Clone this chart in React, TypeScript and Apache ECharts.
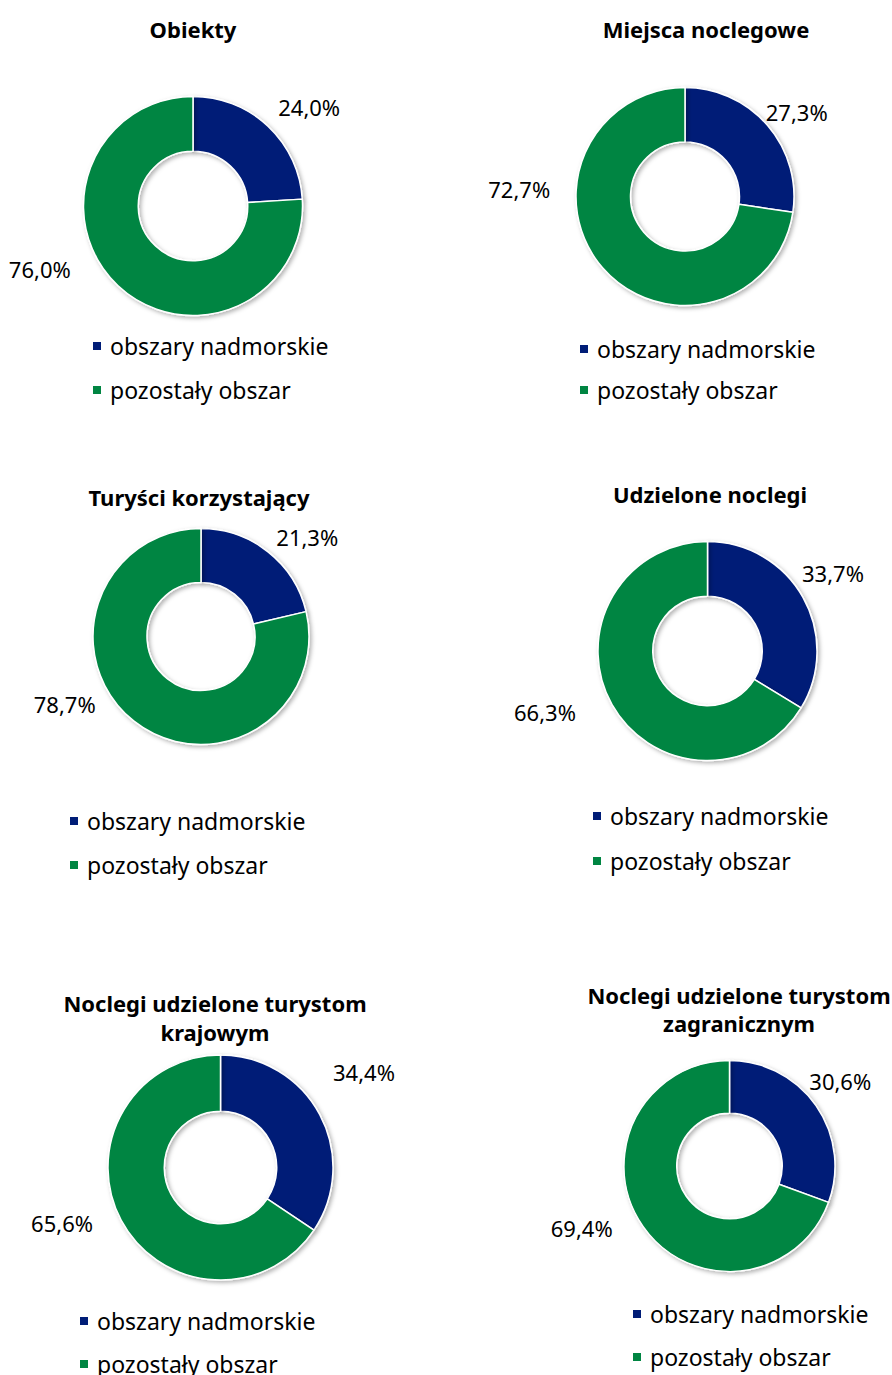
import React, { useEffect, useRef } from "react";
import * as echarts from "echarts";

const categories = ["obszary nadmorskie", "pozostały obszar"];
const chartTitles = [
  "Obiekty",
  "Miejsca noclegowe",
  "Turyści korzystający",
  "Udzielone noclegi",
  "Noclegi udzielone turystom\nkrajowym",
  "Noclegi udzielone turystom\nzagranicznym",
];
const coastalShares = [24.0, 27.3, 21.3, 33.7, 34.4, 30.6];
const otherShares = [76.0, 72.7, 78.7, 66.3, 65.6, 69.4];

const colors = ["#001d77", "#008542"];
const FONT = "'Noto Sans', sans-serif";
const LEGEND_SIZE = 23;

// layout per panel: title centre/top, donut centre/radius, legend rows, label nudges
const panels = [
  { tx: 193, ty: 17, tlh: 24, cx: 193, cy: 206, r: 109.5, lx: 91, rows: [346, 390], off: [[-10, -8], [-27, -28]] },
  { tx: 706, ty: 17, tlh: 24, cx: 685, cy: 196.5, r: 109, lx: 578, rows: [349, 390], off: [[-23, -3], [-31, -89]] },
  { tx: 199, ty: 485, tlh: 24, cx: 201, cy: 636.5, r: 108, lx: 68, rows: [821, 865], off: [[-11, -3], [-19, -29]] },
  { tx: 710, ty: 482, tlh: 24, cx: 707.5, cy: 651, r: 109.5, lx: 591, rows: [816, 861], off: [[-24, -17], [-13, 0]] },
  { tx: 215, ty: 988, tlh: 29, cx: 220.5, cy: 1167.5, r: 112.5, lx: 78, rows: [1321, 1364], off: [[-10, -35], [-5, -5]] },
  { tx: 739, ty: 981, tlh: 28, cx: 729.5, cy: 1166, r: 105.5, lx: 631, rows: [1314, 1357], off: [[-29, -16], [-8, -7]] },
];

const fmt = (v: number) => v.toFixed(1).replace(".", ",") + "%";

export default function App() {
  const ref = useRef<HTMLDivElement>(null);
  useEffect(() => {
    document.body.style.margin = "0";
    if (!ref.current) return;
    const chart = echarts.init(ref.current, null, { renderer: "svg" });
    const legends: any[] = [];
    panels.forEach((p) => {
      categories.forEach((c, k) => {
        legends.push({
          orient: "vertical",
          left: p.lx,
          top: p.rows[k] - LEGEND_SIZE / 2,
          padding: 0,
          itemWidth: 10,
          itemHeight: 10,
          icon: "rect",
          data: [c],
          textStyle: {
            fontFamily: FONT,
            fontSize: LEGEND_SIZE,
            color: "#000",
            padding: [0, 0, 0, 3],
          },
          selectedMode: false,
        });
      });
    });
    const option: any = {
      animation: false,
      color: colors,
      title: panels.map((p, i) => ({
        text: chartTitles[i],
        left: p.tx,
        top: p.ty,
        padding: 0,
        textAlign: "center",
        textStyle: {
          fontFamily: FONT,
          fontWeight: "bold",
          fontSize: 22,
          lineHeight: p.tlh,
          color: "#000",
        },
      })),
      legend: legends,
      series: panels.map((p, i) => ({
        type: "pie",
        center: [p.cx, p.cy],
        radius: [p.r * 0.5, p.r],
        startAngle: 90,
        clockwise: true,
        avoidLabelOverlap: false,
        itemStyle: {
          borderColor: "#fff",
          borderWidth: 1.5,
          shadowBlur: 4,
          shadowOffsetX: 2,
          shadowOffsetY: 2,
          shadowColor: "rgba(0,0,0,0.3)",
        },
        label: {
          show: true,
          position: "outside",
          formatter: (prm: any) => fmt(prm.value),
          fontFamily: FONT,
          fontSize: 22,
          color: "#000",
        },
        labelLine: { show: false, length: 15, length2: 5 },
        labelLayout: (prm: any) => ({ dx: p.off[prm.dataIndex][0], dy: p.off[prm.dataIndex][1] }),
        emphasis: { disabled: true },
        data: [
          { name: categories[0], value: coastalShares[i] },
          { name: categories[1], value: otherShares[i] },
        ],
      })),
    };
    chart.setOption(option);
    return () => chart.dispose();
  }, []);
  return <div ref={ref} style={{ width: 892, height: 1375 }} />;
}
